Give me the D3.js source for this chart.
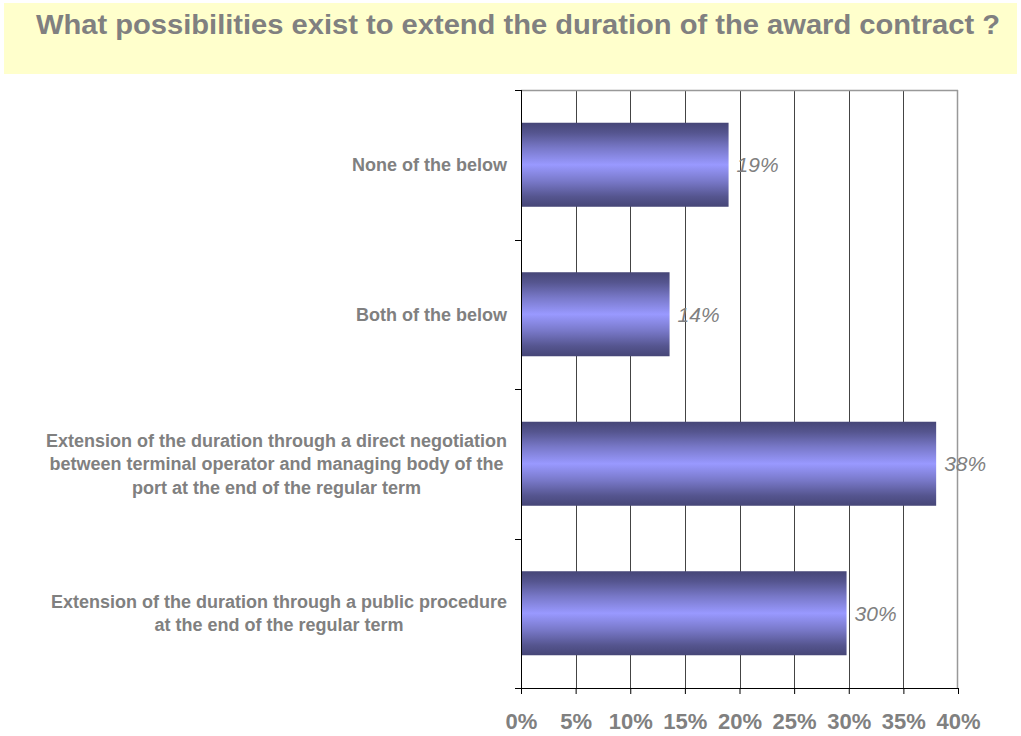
<!DOCTYPE html>
<html>
<head>
<meta charset="utf-8">
<script src="https://cdn.jsdelivr.net/npm/d3@7"></script>
<style>
  html, body { margin: 0; padding: 0; background: #fff; }
  svg { display: block; font-family: "Liberation Sans", Arial, sans-serif; }
</style>
</head>
<body>
<svg id="chart" width="1021" height="736"></svg>
<script>
// Survey answers, listed top to bottom
const categories = [
  "None of the below",
  "Both of the below",
  "Extension of the duration through a direct negotiation|between terminal operator and managing body of the|port at the end of the regular term",
  "Extension of the duration through a public procedure|at the end of the regular term"
];
const shares = [0.19, 0.136, 0.38, 0.298];
const xTicks = [0, 0.05, 0.10, 0.15, 0.20, 0.25, 0.30, 0.35, 0.40];
const titleText = "What possibilities exist to extend the duration of the award contract ?";

const svg = d3.select("#chart");
const grey = "#808080";

// Title banner
svg.append("rect").attr("x", 4).attr("y", 3).attr("width", 1013).attr("height", 71)
  .attr("fill", "#ffffcc");
svg.append("text").attr("x", 518).attr("y", 34).attr("text-anchor", "middle")
  .attr("font-size", 28).attr("font-weight", "bold").attr("fill", grey)
  .attr("textLength", 964).attr("lengthAdjust", "spacingAndGlyphs")
  .text(titleText);

const plot = { left: 521, right: 958, top: 90, bottom: 688 };

const x = d3.scaleLinear().domain([0, 0.40]).range([plot.left, plot.right]);
const y = d3.scaleBand().domain(d3.range(categories.length))
  .range([plot.top, plot.bottom]).paddingInner(0.438).paddingOuter(0.219);

// Bar gradient: dark edges, light centre
const defs = svg.append("defs");
const grad = defs.append("linearGradient").attr("id", "barGrad")
  .attr("x1", 0).attr("y1", 0).attr("x2", 0).attr("y2", 1);
[[0, "#464677"], [0.12, "#55558f"], [0.3, "#7878c8"], [0.5, "#9999ff"],
 [0.7, "#7878c8"], [0.88, "#55558f"], [1, "#464677"]].forEach(([o, c]) =>
  grad.append("stop").attr("offset", o).attr("stop-color", c));

// Vertical gridlines
svg.append("g").selectAll("line").data(xTicks.slice(1, -1)).join("line")
  .attr("x1", d => Math.round(x(d)) + 0.5).attr("x2", d => Math.round(x(d)) + 0.5)
  .attr("y1", plot.top).attr("y2", plot.bottom)
  .attr("stroke", "#444").attr("stroke-width", 1);

// Plot frame (top and right edges)
svg.append("line").attr("x1", plot.left).attr("x2", plot.right)
  .attr("y1", plot.top + 0.5).attr("y2", plot.top + 0.5)
  .attr("stroke", "#999").attr("stroke-width", 1.5);
svg.append("line").attr("x1", plot.right - 0.5).attr("x2", plot.right - 0.5)
  .attr("y1", plot.top).attr("y2", plot.bottom)
  .attr("stroke", "#999").attr("stroke-width", 1.5);

// Bars
svg.append("g").selectAll("rect").data(shares).join("rect")
  .attr("x", x(0)).attr("y", (d, i) => y(i))
  .attr("width", d => x(d) - x(0)).attr("height", y.bandwidth())
  .attr("fill", "url(#barGrad)");

// Value labels
const fmt = d3.format(".0%");
svg.append("g").selectAll("text").data(shares).join("text")
  .attr("x", d => x(d) + 8).attr("y", (d, i) => y(i) + y.bandwidth() / 2)
  .attr("dy", "0.36em").attr("font-size", 21).attr("font-style", "italic")
  .attr("fill", grey).text(d => fmt(d));

// X axis
const xAxis = d3.axisBottom(x).tickValues(xTicks).tickFormat(fmt)
  .tickSize(6).tickPadding(19).tickSizeOuter(0);
const gx = svg.append("g").attr("transform", `translate(0,${plot.bottom})`).call(xAxis);
gx.select(".domain").remove();
gx.append("line").attr("x1", plot.left - 6).attr("x2", plot.right)
  .attr("y1", 0.5).attr("y2", 0.5).attr("stroke", "#000");
gx.selectAll(".tick line").attr("stroke", "#000");
gx.selectAll(".tick text").attr("fill", grey).attr("font-size", 22)
  .attr("font-weight", "bold").attr("font-family", "'Liberation Sans', Arial, sans-serif");

// Y axis line with ticks at category boundaries
const bounds = d3.range(categories.length + 1).map(i => plot.top + i * y.step());
svg.append("line").attr("x1", plot.left + 0.5).attr("x2", plot.left + 0.5)
  .attr("y1", plot.top).attr("y2", plot.bottom).attr("stroke", "#000");
svg.append("g").selectAll("line").data(bounds).join("line")
  .attr("x1", plot.left - 6).attr("x2", plot.left)
  .attr("y1", d => Math.round(d) + 0.5).attr("y2", d => Math.round(d) + 0.5)
  .attr("stroke", "#000");

// Category labels: block right-aligned, lines centred within the block
const labelRight = 507, lineH = 23.5;
categories.forEach((c, i) => {
  const lines = c.split("|");
  const g = svg.append("g");
  const texts = lines.map((t, j) => g.append("text")
    .attr("font-size", 18).attr("font-weight", "bold").attr("fill", grey)
    .attr("text-anchor", "middle")
    .attr("y", y(i) + y.bandwidth() / 2 + (j - (lines.length - 1) / 2) * lineH)
    .attr("dy", "0.36em").text(t));
  const maxW = d3.max(texts, t => t.node().getComputedTextLength());
  texts.forEach(t => t.attr("x", labelRight - maxW / 2));
});
</script>
</body>
</html>
